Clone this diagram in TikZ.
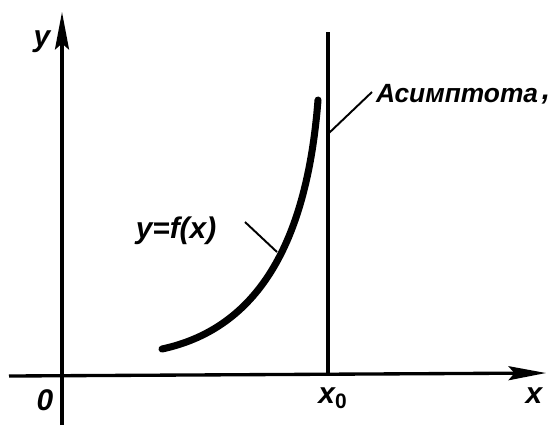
\documentclass[tikz,border=0pt]{standalone}
\usepackage{fontspec}
\setmainfont{Liberation Sans}
\usetikzlibrary{arrows.meta,positioning,calc}

\begin{document}
\begin{tikzpicture}[
  x=0.02cm, y=-0.02cm,
  axis/.style={line width=1.9pt, -{Stealth[length=7.5mm, width=2.8mm, inset=1.2mm]}},
  lab/.style={font=\fontsize{17}{19}\selectfont\itshape\bfseries, inner sep=1pt},
  graph/.style={line width=4pt, line cap=round},
  leader/.style={line width=1.1pt}
]
\useasboundingbox (0,0) rectangle (550,427);
% axes
\coordinate (ybot) at (62,425);
\coordinate (ytop) at (62,12);
\coordinate (xleft) at (9,376);
\coordinate (xright) at (546,373);
\draw[axis] (ybot) -- (ytop);
\draw[axis] (xleft) -- (xright);
% asymptote
\coordinate (atop) at (328,32);
\coordinate (afoot) at (328,376);
\draw[line width=2pt] (atop) -- (afoot);
% curve
\coordinate (c0) at (162,349);
\coordinate (c1) at (318,100);
\draw[graph] (c0) .. controls (250,330) and (306,255) .. (c1);
% labels
\node[lab] (ylab) at (42,42) {y};
\node[lab] (xlab) at (534,396) {x};
\node[lab] (olab) at (45,400) {0};
\node[lab] (x0lab) at (333,398) {x$_{\mathbf 0}$};
\node[lab] (flab) at (176,231) {y=f(x)};
\node[lab, font=\fontsize{15}{17}\selectfont\itshape\bfseries, anchor=west] (alab) at (374,94) {Асимптота};
\node[lab] (comma) at (546,100) {,};
% leaders
\coordinate (fstart) at (245,222);
\coordinate (fend) at (277,252);
\draw[leader] (fstart) -- (fend);
\coordinate (astart) at (372,92);
\coordinate (aend) at (329,133);
\draw[leader] (astart) -- (aend);
\end{tikzpicture}
\end{document}
